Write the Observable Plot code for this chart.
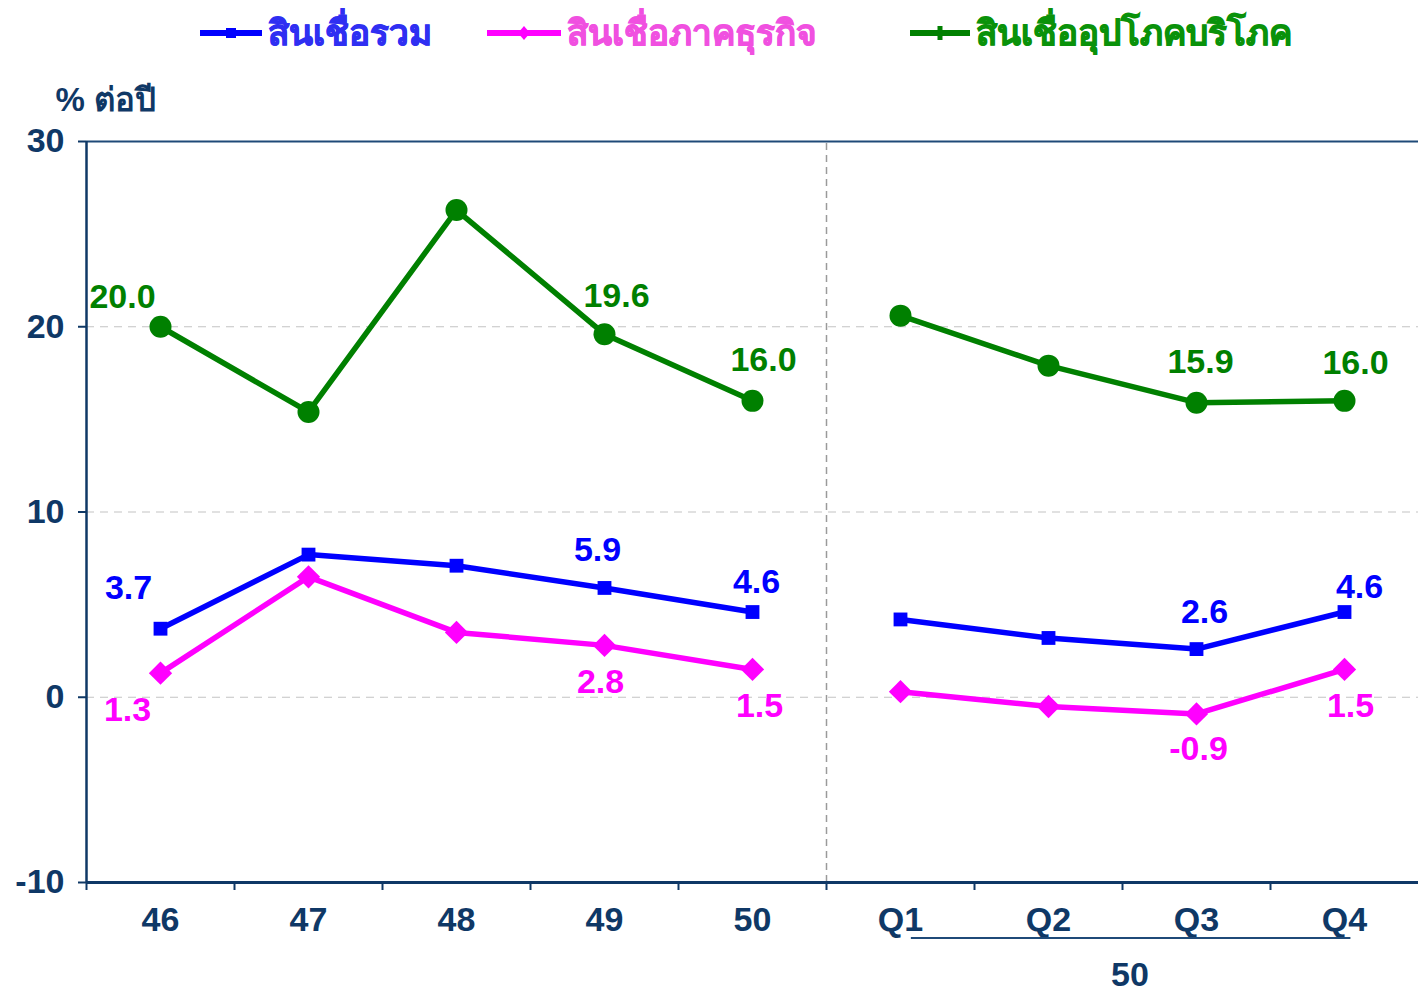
<!DOCTYPE html>
<html>
<head>
<meta charset="utf-8">
<script src="https://cdn.jsdelivr.net/npm/d3@7"></script>
<script src="https://cdn.jsdelivr.net/npm/@observablehq/plot@0.6"></script>
<style>
  html, body { margin: 0; padding: 0; background: #ffffff; }
  body { width: 1418px; height: 991px; overflow: hidden; font-family: "Liberation Sans", Arial, "Noto Sans", "DejaVu Sans", sans-serif; }
  #legend { position: relative; width: 1418px; height: 70px; }
  .item { position: absolute; top: 8px; display: flex; align-items: center; font-weight: bold; font-size: 35px; line-height: 50px; white-space: nowrap; }
  .item span { -webkit-text-stroke: 0.9px currentColor; }
  .item svg { margin-right: 6px; }
</style>
</head>
<body>
<div id="legend"></div>
<div id="chart"></div>
<script>
// ---- data ----
const categories = ["46", "47", "48", "49", "50", "Q1", "Q2", "Q3", "Q4"];
const periods    = ["annual", "annual", "annual", "annual", "annual", "quarter", "quarter", "quarter", "quarter"];
const seriesNames = ["สินเชื่อรวม", "สินเชื่อภาคธุรกิจ", "สินเชื่ออุปโภคบริโภค"];
const totalLoans    = [3.7, 7.7, 7.1, 5.9, 4.6, 4.2, 3.2, 2.6, 4.6];
const businessLoans = [1.3, 6.5, 3.5, 2.8, 1.5, 0.3, -0.5, -0.9, 1.5];
const consumerLoans = [20.0, 15.4, 26.3, 19.6, 16.0, 20.6, 17.9, 15.9, 16.0];
const labelledCategories = ["46", "49", "50", "Q3", "Q4"];
const yTicks = [-10, 0, 10, 20, 30];
const yLabel = "% ต่อปี";
const groupLabel = "50";
const groupFrom = "Q1";
const groupTo = "Q4";

// ---- styles ----
const navy = "#0f3866";
const seriesStyle = {
  "สินเชื่อรวม": {color: "#0000ff", legend: "#2f2ff2", symbol: "square", r: 7.8},
  "สินเชื่อภาคธุรกิจ": {color: "#ff00ff", legend: "#f050e0", symbol: "diamond2", r: 10.5},
  "สินเชื่ออุปโภคบริโภค": {color: "#008000", legend: "#0a920a", symbol: "circle", r: 11}
};
const labelOffsets = {
  "สินเชื่อรวม": {"46": [-32, -41], "49": [-7, -38], "50": [4, -30], "Q3": [8, -37], "Q4": [15, -25]},
  "สินเชื่อภาคธุรกิจ": {"46": [-33, 37], "49": [-4, 37], "50": [7, 37], "Q3": [2, 35], "Q4": [6, 37]},
  "สินเชื่ออุปโภคบริโภค": {"46": [-38, -30], "49": [12, -38], "50": [11, -41], "Q3": [4, -41], "Q4": [11, -38]}
};

// ---- table ----
const valuesBySeries = [totalLoans, businessLoans, consumerLoans];
const rows = [];
seriesNames.forEach((s, si) => {
  categories.forEach((c, i) => {
    rows.push({series: s, cat: c, idx: i, period: periods[i], value: valuesBySeries[si][i]});
  });
});
const xPos = d => d.idx + 0.5;

// ---- legend ----
const legendPos = [{left: 200, sw: 62}, {left: 487, sw: 74}, {left: 910, sw: 60}];
const legend = document.getElementById("legend");
seriesNames.forEach((s, i) => {
  const st = seriesStyle[s];
  const p = legendPos[i];
  const item = document.createElement("div");
  item.className = "item";
  item.style.left = p.left + "px";
  item.style.color = st.legend;
  const w = p.sw, h = 20, cx = w / 2, cy = h / 2;
  let marker = "";
  if (st.symbol === "square") marker = `<rect x="${cx-5}" y="${cy-5}" width="10" height="10" fill="${st.color}"/>`;
  else if (st.symbol === "diamond2") marker = `<path d="M${cx},${cy-7}L${cx+6},${cy}L${cx},${cy+7}L${cx-6},${cy}Z" fill="${st.color}"/>`;
  else marker = `<path d="M${cx-2.5},${cy-7}h5v4.5h4.5v5h-4.5v4.5h-5v-4.5h-4.5v-5h4.5Z" fill="${st.color}"/>`;
  item.innerHTML = `<svg width="${w}" height="${h}"><line x1="0" x2="${w}" y1="${cy}" y2="${cy}" stroke="${st.color}" stroke-width="6"/>${marker}</svg><span>${s}</span>`;
  legend.appendChild(item);
});

// ---- chart ----
const labelMarks = [];
seriesNames.forEach(s => {
  labelledCategories.forEach(c => {
    const [dx, dy] = labelOffsets[s][c];
    labelMarks.push(Plot.text(rows.filter(d => d.series === s && d.cat === c), {
      x: xPos, y: "value", text: d => d.value.toFixed(1),
      dx, dy, fill: seriesStyle[s].color, fontSize: 34, fontWeight: "bold",
      textAnchor: "middle", lineAnchor: "middle"
    }));
  });
});

const gi0 = categories.indexOf(groupFrom) + 0.5;
const gi1 = categories.indexOf(groupTo) + 0.5;

const chart = Plot.plot({
  width: 1418,
  height: 921,
  marginTop: 71,
  marginBottom: 109,
  marginLeft: 86,
  marginRight: 0,
  style: {fontFamily: "'Liberation Sans', Arial, 'Noto Sans', 'DejaVu Sans', sans-serif", fontSize: "34px", fontWeight: "bold", color: navy, background: "#ffffff", overflow: "visible"},
  x: {type: "linear", domain: [0, categories.length]},
  y: {domain: [-10, 30]},
  marks: [
    Plot.ruleY([0, 10, 20], {stroke: "#c4c4c4", strokeWidth: 1.2, strokeDasharray: "8,6"}),
    Plot.ruleX([categories.indexOf("Q1")], {y1: -10, y2: 30, stroke: "#9a9a9a", strokeWidth: 1.5, strokeDasharray: "7,5"}),
    Plot.ruleY([30], {stroke: "#1f4a78", strokeWidth: 2}),
    Plot.axisY({ticks: yTicks, tickSize: 8, tickPadding: 14, tickFormat: d => String(d), fontSize: 34, fontWeight: "bold", label: null, stroke: navy, strokeWidth: 2}),
    Plot.axisX({ticks: d3.range(0, categories.length), tickSize: 8, tickFormat: () => "", label: null, stroke: navy, strokeWidth: 2}),
    Plot.axisX({ticks: categories.map((c, i) => i + 0.5), tickSize: 0, tickPadding: 24, tickFormat: d => categories[Math.round(d - 0.5)], fontSize: 34, fontWeight: "bold", label: null}),
    Plot.ruleX([0], {y1: -10, y2: 30, stroke: navy, strokeWidth: 2.5}),
    Plot.ruleY([-10], {stroke: navy, strokeWidth: 3}),
    Plot.link([{x1: gi0, x2: gi1}], {x1: d => d.x1 + 0.07, x2: d => d.x2 + 0.04, y1: -13, y2: -13, stroke: "#1f4a78", strokeWidth: 2}),
    Plot.text([groupLabel], {x: (gi0 + gi1) / 2 + 0.05, y: -15, text: d => d, fill: navy, fontSize: 34, fontWeight: "bold", lineAnchor: "middle"}),
    Plot.text([yLabel], {frameAnchor: "top-left", dx: -31, dy: -41, text: d => d, fill: navy, fontSize: 33, fontWeight: "bold", textAnchor: "start", lineAnchor: "middle"}),
    ...seriesNames.map(s => Plot.line(rows.filter(d => d.series === s), {x: xPos, y: "value", z: "period", stroke: seriesStyle[s].color, strokeWidth: 5.5, curve: "linear"})),
    ...seriesNames.map(s => Plot.dot(rows.filter(d => d.series === s), {x: xPos, y: "value", symbol: () => seriesStyle[s].symbol, r: seriesStyle[s].r, fill: seriesStyle[s].color, stroke: "none"})),
    ...labelMarks
  ]
});
document.getElementById("chart").appendChild(chart);
</script>
</body>
</html>
